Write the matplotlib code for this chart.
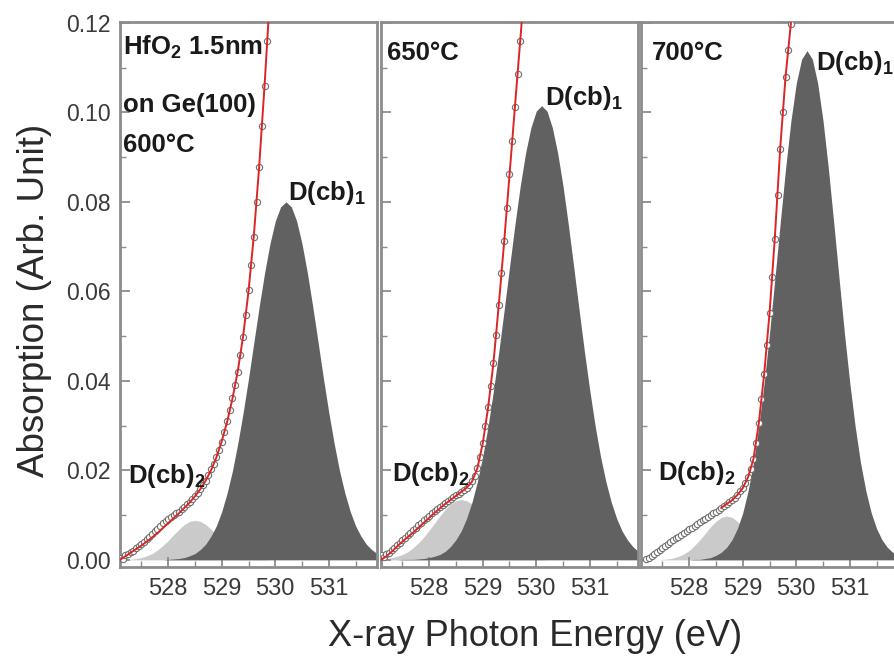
import numpy as np
import matplotlib
matplotlib.use("Agg")
import matplotlib.pyplot as plt
from matplotlib.ticker import MultipleLocator

plt.rcParams['font.family'] = ['Liberation Sans', 'DejaVu Sans']
plt.rcParams['mathtext.fontset'] = 'custom'
plt.rcParams['mathtext.rm'] = 'Liberation Sans:bold'
plt.rcParams['mathtext.default'] = 'rm'

# ---------------- data ----------------
# energy grid of fit components (eV), 527.1 ... 531.9 step 0.1
energy_peak = np.round(527.1 + 0.1 * np.arange(49), 2)

dark_600 = [0, 0, 0, 0, 0, 0, 0, 0, 0,
            0.0001, 0.0002, 0.0003, 0.0005, 0.0009, 0.0014, 0.0023, 0.0035, 0.0053, 0.0076,
            0.0108, 0.0149, 0.0199, 0.0260, 0.0329, 0.0405, 0.0486, 0.0566, 0.0641, 0.0706,
            0.0757, 0.0789, 0.0800, 0.0789, 0.0757, 0.0706, 0.0641, 0.0566, 0.0486, 0.0405,
            0.0329, 0.0260, 0.0199, 0.0149, 0.0108, 0.0076, 0.0053, 0.0035, 0.0023, 0.0014]
light_600 = [0, 0.0001, 0.0001, 0.0003, 0.0005, 0.0009, 0.0014, 0.0022, 0.0032,
             0.0043, 0.0056, 0.0068, 0.0079, 0.0086, 0.0088, 0.0086, 0.0079, 0.0068, 0.0056,
             0.0043, 0.0032, 0.0022, 0.0014, 0.0009, 0.0005, 0.0003, 0.0001, 0.0001, 0,
             0, 0, 0, 0, 0, 0, 0, 0, 0, 0,
             0, 0, 0, 0, 0, 0, 0, 0, 0, 0]

dark_650 = [0, 0, 0, 0, 0.0001, 0.0001, 0.0001, 0.0002, 0.0003,
            0.0005, 0.0008, 0.0012, 0.0019, 0.0030, 0.0045, 0.0065, 0.0093, 0.0129, 0.0175,
            0.0231, 0.0299, 0.0378, 0.0465, 0.0558, 0.0654, 0.0748, 0.0835, 0.0909, 0.0966,
            0.1003, 0.1015, 0.1003, 0.0966, 0.0909, 0.0835, 0.0748, 0.0654, 0.0558, 0.0465,
            0.0378, 0.0299, 0.0231, 0.0175, 0.0129, 0.0093, 0.0065, 0.0045, 0.0030, 0.0019]
light_650 = [0.0001, 0.0003, 0.0005, 0.0008, 0.0012, 0.0018, 0.0027, 0.0038, 0.0051,
             0.0066, 0.0082, 0.0098, 0.0113, 0.0125, 0.0132, 0.0135, 0.0132, 0.0125, 0.0113,
             0.0098, 0.0082, 0.0066, 0.0051, 0.0038, 0.0027, 0.0018, 0.0012, 0.0008, 0.0005,
             0.0003, 0.0001, 0, 0, 0, 0, 0, 0, 0, 0,
             0, 0, 0, 0, 0, 0, 0, 0, 0, 0]

dark_700 = [0, 0, 0, 0, 0, 0, 0, 0, 0,
            0, 0.0001, 0.0001, 0.0003, 0.0005, 0.0010, 0.0017, 0.0028, 0.0045, 0.0070,
            0.0105, 0.0154, 0.0217, 0.0298, 0.0395, 0.0506, 0.0628, 0.0753, 0.0874, 0.0981,
            0.1065, 0.1119, 0.1138, 0.1119, 0.1065, 0.0981, 0.0874, 0.0753, 0.0628, 0.0506,
            0.0395, 0.0298, 0.0217, 0.0154, 0.0105, 0.0070, 0.0045, 0.0028, 0.0017, 0.0010]
light_700 = [0, 0, 0, 0, 0.0001, 0.0002, 0.0004, 0.0008, 0.0013,
             0.0021, 0.0032, 0.0045, 0.0059, 0.0074, 0.0086, 0.0095, 0.0098, 0.0095, 0.0086,
             0.0074, 0.0059, 0.0045, 0.0032, 0.0021, 0.0013, 0.0008, 0.0004, 0.0002, 0.0001,
             0, 0, 0, 0, 0, 0, 0, 0, 0, 0,
             0, 0, 0, 0, 0, 0, 0, 0, 0, 0]

# total fit (red line)
fit_energy_600 = np.round(527.1 + 0.1 * np.arange(29), 2)
fit_600 = [0.0000, 0.0008, 0.0016, 0.0024, 0.0032, 0.0041, 0.0050, 0.0060, 0.0071, 0.0082,
           0.0093, 0.0104, 0.0116, 0.0128, 0.0142, 0.0158, 0.0177, 0.0200, 0.0229, 0.0265,
           0.0308, 0.0360, 0.0422, 0.0500, 0.0600, 0.0725, 0.0880, 0.1060, 0.1260]
fit_energy_650 = np.round(527.1 + 0.1 * np.arange(28), 2)
fit_650 = [0.0000, 0.0008, 0.0018, 0.0030, 0.0041, 0.0051, 0.0061, 0.0072, 0.0083, 0.0094,
           0.0105, 0.0115, 0.0125, 0.0134, 0.0143, 0.0152, 0.0161, 0.0175, 0.0205, 0.0260,
           0.0340, 0.0440, 0.0570, 0.0710, 0.0860, 0.1010, 0.1160, 0.1310]
fit_energy_700 = np.round(528.6 + 0.1 * np.arange(15), 2)
fit_700 = [0.0116, 0.0125, 0.0133, 0.0145, 0.0160, 0.0185, 0.0225, 0.0305, 0.0415, 0.0550,
           0.0720, 0.0920, 0.1080, 0.1200, 0.1330]

# measured absorption (open circles)
exp_energy_600 = np.round(527.1 + 0.05 * np.arange(57), 2)
exp_600 = [0.0005, 0.0002, 0.0010, 0.0012, 0.0018, 0.0020, 0.0027, 0.0030, 0.0036, 0.0040,
           0.0046, 0.0052, 0.0058, 0.0064, 0.0070, 0.0076, 0.0082, 0.0086, 0.0092, 0.0096,
           0.0100, 0.0104, 0.0108, 0.0113, 0.0118, 0.0124, 0.0130, 0.0136, 0.0143, 0.0150,
           0.0158, 0.0167, 0.0177, 0.0189, 0.0202, 0.0215, 0.0230, 0.0246, 0.0264, 0.0286,
           0.0310, 0.0334, 0.0362, 0.0390, 0.0420, 0.0458, 0.0498, 0.0548, 0.0602, 0.0660,
           0.0722, 0.0800, 0.0878, 0.0970, 0.1058, 0.1160, 0.1262]
exp_energy_650 = np.round(527.1 + 0.05 * np.arange(55), 2)
exp_650 = [0.0010, 0.0006, 0.0012, 0.0016, 0.0022, 0.0026, 0.0033, 0.0038, 0.0044, 0.0049,
           0.0055, 0.0060, 0.0066, 0.0071, 0.0077, 0.0083, 0.0089, 0.0094, 0.0099, 0.0104,
           0.0109, 0.0113, 0.0118, 0.0122, 0.0127, 0.0131, 0.0135, 0.0140, 0.0144, 0.0148,
           0.0152, 0.0156, 0.0161, 0.0167, 0.0176, 0.0188, 0.0206, 0.0230, 0.0262, 0.0298,
           0.0342, 0.0388, 0.0440, 0.0502, 0.0570, 0.0640, 0.0712, 0.0786, 0.0862, 0.0935,
           0.1012, 0.1085, 0.1160, 0.1235, 0.1310]
exp_energy_700 = np.round(527.2 + 0.05 * np.arange(57), 2)
exp_700 = [0.0002, 0.0004, 0.0009, 0.0012, 0.0017, 0.0021, 0.0026, 0.0030, 0.0035, 0.0039,
           0.0044, 0.0048, 0.0052, 0.0056, 0.0060, 0.0064, 0.0068, 0.0072, 0.0076, 0.0080,
           0.0084, 0.0088, 0.0092, 0.0096, 0.0100, 0.0104, 0.0108, 0.0112, 0.0116, 0.0121,
           0.0125, 0.0129, 0.0134, 0.0139, 0.0146, 0.0153, 0.0161, 0.0171, 0.0186, 0.0204,
           0.0226, 0.0262, 0.0306, 0.0360, 0.0416, 0.0480, 0.0552, 0.0632, 0.0718, 0.0815,
           0.0918, 0.1000, 0.1078, 0.1140, 0.1198, 0.1262, 0.1330]

x_ticks = [528, 529, 530, 531]
y_ticks = [0.00, 0.02, 0.04, 0.06, 0.08, 0.10, 0.12]
temperatures = ["600°C", "650°C", "700°C"]

panels = [
    dict(dark=dark_600, light=light_600, fx=fit_energy_600, fy=fit_600,
         ex=exp_energy_600, ey=exp_600),
    dict(dark=dark_650, light=light_650, fx=fit_energy_650, fy=fit_650,
         ex=exp_energy_650, ey=exp_650),
    dict(dark=dark_700, light=light_700, fx=fit_energy_700, fy=fit_700,
         ex=exp_energy_700, ey=exp_700),
]

# ---------------- figure ----------------
fig = plt.figure(figsize=(8.95, 6.63), dpi=100)
lefts = [120 / 895, 381 / 895, 641 / 895]
width = 257 / 895
bottom = 96 / 663
height = 545 / 663

spine_col = '#8c8c8c'
dark_col = '#616161'
light_col = '#cacaca'
red_col = '#d92626'
bold = dict(fontweight='bold', fontsize=18.5, color='#1a1a1a')

axes = []
for i, p in enumerate(panels):
    ax = fig.add_axes([lefts[i], bottom, width, height])
    axes.append(ax)
    ax.fill_between(energy_peak, 0, p['light'], color=light_col, lw=0, zorder=1)
    ax.fill_between(energy_peak, 0, p['dark'], color=dark_col, lw=0, zorder=2)
    ax.plot(p['ex'], p['ey'], ls='none', marker='o', ms=4.5, mfc='white',
            mec='#707070', mew=0.8, zorder=3)
    ax.plot(p['fx'], p['fy'], color=red_col, lw=1.4, zorder=4)

    ax.set_xlim(527.1, 531.9)
    ax.set_ylim(-0.0016, 0.1202)
    ax.set_xticks(x_ticks)
    ax.xaxis.set_minor_locator(MultipleLocator(0.5))
    ax.set_yticks(y_ticks)
    ax.yaxis.set_minor_locator(MultipleLocator(0.01))
    ax.tick_params(axis='both', which='both', direction='in', color=spine_col,
                   top=False, right=False)
    ax.tick_params(axis='both', which='major', length=7, width=1.3)
    ax.tick_params(axis='both', which='minor', length=4, width=1.0)
    ax.tick_params(axis='x', labelsize=17, labelcolor='#3a3a3a', pad=8)
    ax.tick_params(axis='y', labelsize=16.5, labelcolor='#3a3a3a', pad=7)
    if i == 0:
        ax.set_yticklabels(['%.2f' % v for v in y_ticks])
    else:
        ax.set_yticklabels([])
    for s in ax.spines.values():
        s.set_color(spine_col)
        s.set_linewidth(2)
    ax.text([530.24, 530.17, 530.36][i], [0.0804, 0.1017, 0.1095][i], r'D(cb)$_1$',
            ha='left', va='baseline', zorder=6, **bold)
    ax.text([527.25, 527.31, 527.42][i], [0.0172, 0.0177, 0.0179][i], r'D(cb)$_2$',
            ha='left', va='baseline', zorder=6, **bold)

axes[0].text(527.16, 0.1128, r'HfO$_2$ 1.5nm', ha='left', va='baseline', zorder=6, **bold)
axes[0].text(527.16, 0.1000, 'on Ge(100)', ha='left', va='baseline', zorder=6, **bold)
axes[0].text(527.16, 0.0912, temperatures[0], ha='left', va='baseline', zorder=6, **bold)
axes[1].text(527.21, 0.1117, temperatures[1], ha='left', va='baseline', zorder=6, **bold)
axes[2].text(527.30, 0.1117, temperatures[2], ha='left', va='baseline', zorder=6, **bold)

fig.text(535 / 895, 1 - 637 / 663, 'X-ray Photon Energy (eV)', ha='center', va='center',
         fontsize=26, color='#2a2a2a')
fig.text(35 / 895, 1 - 300 / 663, 'Absorption (Arb. Unit)', ha='center', va='center',
         rotation=90, fontsize=26.5, color='#2a2a2a')

fig.savefig('out.png', dpi=100)
